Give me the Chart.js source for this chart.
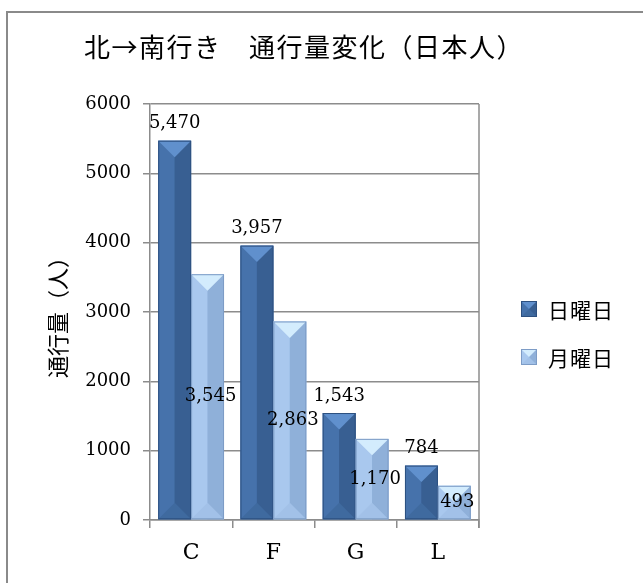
<!DOCTYPE html>
<html>
<head>
<meta charset="utf-8">
<script src="https://cdn.jsdelivr.net/npm/chart.js@4/dist/chart.umd.min.js"></script>
<style>
  html, body { margin:0; padding:0; background:#fff; }
  #wrap { position:relative; width:643px; height:583px; overflow:hidden; }
  #frame { position:absolute; left:6px; top:11px; width:700px; height:700px;
           border-left:2px solid #8a8a8a; border-top:2px solid #8a8a8a; }
  #chart { position:absolute; left:0; top:0; }
</style>
</head>
<body>
<div id="wrap">
  <div id="frame"></div>
  <canvas id="chart" width="643" height="583"></canvas>
</div>
<script>
// data
const categories = ['C', 'F', 'G', 'L'];
const seriesNames = ['日曜日', '月曜日'];
const sundayValues = [5470, 3957, 1543, 784];
const mondayValues = [3545, 2863, 1170, 493];
const yTicks = [0, 1000, 2000, 3000, 4000, 5000, 6000];
const chartTitle = '北→南行き　通行量変化（日本人）';
const yTitle = '通行量（人）';

const jpFont = '"Noto Sans CJK JP", "Noto Sans", sans-serif';
const numFont = '"DejaVu Serif", "Liberation Serif", serif';
const gray = '#8c8c8c';

// bevel palettes (dark = 日曜日, light = 月曜日)
const palettes = [
  {base:'#3f6aa0', left:'#4672ab', right:'#385f92', top:'#6090cd', bottom:'#3f6a9f', edge:'#2d5080'},
  {base:'#9dbde6', left:'#a9c8ee', right:'#8fb0d9', top:'#d3ecfd', bottom:'#a2c1e8', edge:'#7d9cc6'}
];

function bevel(ctx, left, top, right, bottom, p){
  const w = right - left, cx = (left + right) / 2;
  const d = Math.min(w / 2, (bottom - top) / 2);
  ctx.save();
  ctx.fillStyle = p.left;  ctx.fillRect(left, top, cx - left, bottom - top);
  ctx.fillStyle = p.right; ctx.fillRect(cx, top, right - cx, bottom - top);
  ctx.fillStyle = p.top;
  ctx.beginPath(); ctx.moveTo(left, top); ctx.lineTo(right, top); ctx.lineTo(cx, top + d); ctx.closePath(); ctx.fill();
  ctx.fillStyle = p.bottom;
  ctx.beginPath(); ctx.moveTo(left, bottom); ctx.lineTo(right, bottom); ctx.lineTo(cx, bottom - d); ctx.closePath(); ctx.fill();
  ctx.strokeStyle = p.edge; ctx.lineWidth = 1;
  ctx.strokeRect(left + 0.5, top + 0.5, w - 1, bottom - top - 1);
  ctx.restore();
}

const bevelBars = {
  id: 'bevelBars',
  afterDatasetsDraw(chart){
    const ctx = chart.ctx;
    chart.data.datasets.forEach((ds, i) => {
      chart.getDatasetMeta(i).data.forEach(bar => {
        const {x, y, base, width} = bar.getProps(['x','y','base','width'], true);
        bevel(ctx, x - width/2, y, x + width/2, base, palettes[i]);
      });
    });
    // right frame of plot area
    const a = chart.chartArea;
    ctx.save();
    ctx.strokeStyle = gray; ctx.lineWidth = 1.5;
    ctx.beginPath(); ctx.moveTo(a.right, a.top); ctx.lineTo(a.right, a.bottom + 8); ctx.stroke();
    ctx.restore();
  }
};

const valueLabels = {
  id: 'valueLabels',
  afterDraw(chart){
    const ctx = chart.ctx;
    ctx.save();
    ctx.font = '18px ' + numFont;
    ctx.fillStyle = '#000';
    ctx.textAlign = 'center';
    ctx.textBaseline = 'middle';
    chart.data.datasets.forEach((ds, i) => {
      chart.getDatasetMeta(i).data.forEach((bar, j) => {
        const {x, y, base} = bar.getProps(['x','y','base'], true);
        const txt = ds.data[j].toLocaleString('en-US');
        if (i === 0) ctx.fillText(txt, x, y - 17);
        else ctx.fillText(txt, x + 3, (y + base) / 2);
      });
    });
    // title
    ctx.font = '26px ' + jpFont;
    ctx.letterSpacing = '1.5px';
    ctx.fillText(chartTitle, 304, 47);
    // legend
    ctx.font = '21px ' + jpFont;
    ctx.letterSpacing = '1px';
    ctx.textAlign = 'left';
    seriesNames.forEach((name, i) => {
      const cy = 309 + i * 48;
      bevel(ctx, 521, cy - 8, 537, cy + 8, palettes[i]);
      ctx.fillStyle = '#000';
      ctx.fillText(name, 548, cy + 1);
    });
    ctx.restore();
  }
};

new Chart(document.getElementById('chart'), {
  type: 'bar',
  data: {
    labels: categories,
    datasets: [
      {label: seriesNames[0], data: sundayValues, backgroundColor: palettes[0].base},
      {label: seriesNames[1], data: mondayValues, backgroundColor: palettes[1].base}
    ]
  },
  options: {
    responsive: false,
    animation: false,
    events: [],
    layout: { padding: {top:104, right:164, bottom:0, left:0} },
    datasets: { bar: { barPercentage: 1, categoryPercentage: 0.8, borderWidth: 0 } },
    plugins: { legend: {display:false}, title: {display:false}, tooltip: {enabled:false} },
    scales: {
      x: {
        afterFit(s){ s.height = 63; },
        grid: { display:true, drawOnChartArea:false, color:gray, lineWidth:1.5, tickLength:8 },
        border: { color:gray, width:1.5 },
        ticks: { color:'#000', font:{family:numFont, size:22}, padding:12 }
      },
      y: {
        min: 0, max: 6000,
        afterFit(s){ s.width = 150; },
        afterBuildTicks(s){ s.ticks = yTicks.map(v => ({value:v})); },
        grid: { color:gray, lineWidth:1.5, tickLength:7 },
        border: { color:gray, width:1.5 },
        ticks: { color:'#000', font:{family:numFont, size:18}, padding:12, callback: v => String(v) },
        title: { display:true, text:yTitle, color:'#000', font:{family:jpFont, size:22}, padding:{top:44, bottom:0} }
      }
    }
  },
  plugins: [bevelBars, valueLabels]
});
</script>
</body>
</html>
